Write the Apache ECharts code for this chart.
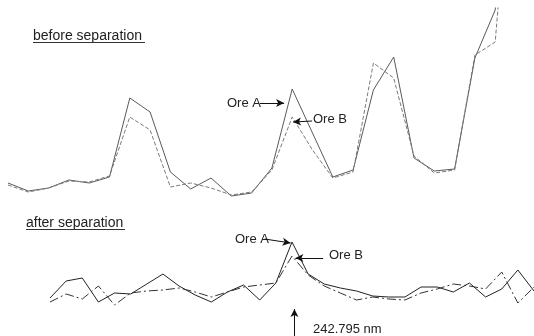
<!DOCTYPE html>
<html>
<head>
<meta charset="utf-8">
<script src="https://cdn.jsdelivr.net/npm/echarts@6/dist/echarts.min.js"></script>
<style>html,body{margin:0;padding:0;background:#fff}#c{width:534px;height:336px}</style>
</head>
<body>
<div id="c"></div>
<script>
// Before separation: intensity (arbitrary units) at equally spaced wavelength channels
const beforeChannels = [0,1,2,3,4,5,6,7,8,9,10,11,12,13,14,15,16,17,18,19,20,21,22,23,24,25];
const beforeOreA = [17,9,12,20,17,23,102,88,28,11,22,4,7,32,111,67,23,30,110,143,42,29,31,142,190,420];
const beforeOreB = [15,8,12,19,18,24,83,70,13,17,12,5,8,30,83,50,22,28,137,122,44,27,30,145,158,402];

// After separation
const afterChannels = [0,1,2,3,4,5,6,7,8,9,10,11,12,13,14,15,16,17,18,19,20,21,22,23,24,25,26,27,28,29,30];
const afterOreA = [12,29,32,8,17,16,26,36,24,15,8,18,25,10,27,68,36,26,22,19,14,13,13,23,23,18,27,13,21,40,19];
const afterOreB = [8,16,11,24,5,17,19,20,22,18,13,18,23,25,27,54,35,24,17,10,13,11,10,17,21,26,24,21,38,7,23];

const titles = ['before separation', 'after separation'];
const oreLabels = ['Ore A', 'Ore B'];
const peakLabel = '242.795 nm';

const FONT = '"Liberation Sans", Arial, sans-serif';
const ARROW = {color:'#111', width:1, type:'solid'};

function pair(xs, ys){ return xs.map((x,i)=>[x, ys[i]]); }
function arrows(list){
  return {
    silent:true, symbol:['none','arrow'], symbolSize:[6,8],
    lineStyle:ARROW, label:{show:false}, animation:false,
    data:list.map(a=>[{coord:a[0]},{coord:a[1]}])
  };
}

const chart = echarts.init(document.getElementById('c'), null, {renderer:'canvas'});
const hiddenAxis = {show:false, axisLine:{show:false}, axisTick:{show:false}, axisLabel:{show:false}, splitLine:{show:false}};

chart.setOption({
  animation:false,
  backgroundColor:'#fff',
  grid:[
    {left:8, top:8, width:507.5, height:192},
    {left:50, top:230, width:489, height:106}
  ],
  xAxis:[
    Object.assign({type:'value', gridIndex:0, min:0, max:25}, hiddenAxis),
    Object.assign({type:'value', gridIndex:1, min:0, max:30}, hiddenAxis)
  ],
  yAxis:[
    Object.assign({type:'value', gridIndex:0, min:0, max:192}, hiddenAxis),
    Object.assign({type:'value', gridIndex:1, min:-26, max:80}, hiddenAxis)
  ],
  series:[
    {type:'line', name:'before A', xAxisIndex:0, yAxisIndex:0, data:pair(beforeChannels, beforeOreA),
     symbol:'none', lineStyle:{color:'#5a5a5a', width:1}, clip:true,
     markLine:arrows([[[12.41,97],[13.60,97]]])},
    {type:'line', name:'before B', xAxisIndex:0, yAxisIndex:0, data:pair(beforeChannels, beforeOreB),
     symbol:'none', lineStyle:{color:'#7a7a7a', width:1, type:[4,2]}, clip:true,
     markLine:arrows([[[14.98,79],[14.04,78]]])},
    {type:'line', name:'after A', xAxisIndex:1, yAxisIndex:1, data:pair(afterChannels, afterOreA),
     symbol:'none', lineStyle:{color:'#222', width:1}, clip:true,
     markLine:arrows([[[13.31,71],[14.91,67]], [[15.15,-26],[15.15,1]]])},
    {type:'line', name:'after B', xAxisIndex:1, yAxisIndex:1, data:pair(afterChannels, afterOreB),
     symbol:'none', lineStyle:{color:'#333', width:1, type:[9,3,2,3]}, clip:true,
     markLine:arrows([[[16.93,52],[15.21,52]]])}
  ],
  graphic:[
    {type:'text', left:33, top:29, style:{text:titles[0], font:'14px '+FONT, fill:'#222'}},
    {type:'line', shape:{x1:33, y1:42.5, x2:145, y2:42.5}, style:{stroke:'#333', lineWidth:1}},
    {type:'text', left:26, top:216, style:{text:titles[1], font:'14px '+FONT, fill:'#222'}},
    {type:'line', shape:{x1:26, y1:229.5, x2:125, y2:229.5}, style:{stroke:'#333', lineWidth:1}},
    {type:'text', left:227, top:97, style:{text:oreLabels[0], font:'13px '+FONT, fill:'#222'}},
    {type:'text', left:313, top:113, style:{text:oreLabels[1], font:'13px '+FONT, fill:'#222'}},
    {type:'text', left:235, top:233, style:{text:oreLabels[0], font:'13px '+FONT, fill:'#222'}},
    {type:'text', left:329, top:249, style:{text:oreLabels[1], font:'13px '+FONT, fill:'#222'}},
    {type:'text', left:313, top:323, style:{text:peakLabel, font:'13px '+FONT, fill:'#222'}}
  ]
});
</script>
</body>
</html>
